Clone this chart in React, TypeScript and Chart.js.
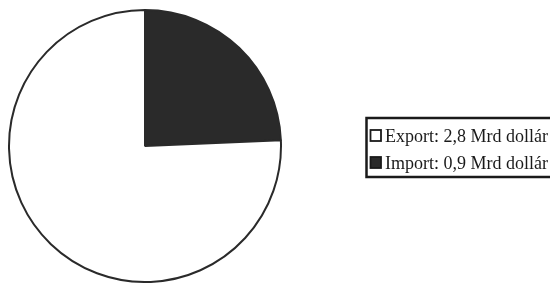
import React, { useEffect, useRef } from "react";
import { Chart, registerables } from "chart.js";

Chart.register(...registerables);

const categories = ["Import: 0,9 Mrd dollár", "Export: 2,8 Mrd dollár"];
const values = [0.9, 2.8];
const colors = ["#2a2a2a", "#ffffff"];
const legendOrder = [1, 0];

const boxLegend = {
  id: "boxLegend",
  afterDraw(chart: any) {
    const ctx = chart.ctx;
    const labels = chart.data.labels as string[];
    const bg = chart.data.datasets[0].backgroundColor as string[];
    ctx.save();
    ctx.strokeStyle = "#1a1a1a";
    ctx.lineWidth = 2.5;
    ctx.strokeRect(366.5, 118, 190, 59);
    ctx.font = '18px "Liberation Serif", "Times New Roman", serif';
    ctx.textBaseline = "alphabetic";
    legendOrder.forEach((idx, i) => {
      const y = 130 + i * 27;
      ctx.fillStyle = bg[idx];
      ctx.fillRect(370.5, y, 10.5, 11);
      ctx.strokeStyle = "#1a1a1a";
      ctx.lineWidth = 1.8;
      ctx.strokeRect(370.5, y, 10.5, 11);
      ctx.fillStyle = "#1a1a1a";
      ctx.fillText(labels[idx], 385, y + 12);
    });
    ctx.restore();
  },
};

export default function App() {
  const ref = useRef<HTMLCanvasElement>(null);
  useEffect(() => {
    if (!ref.current) return;
    const chart = new Chart(ref.current, {
      type: "pie",
      data: {
        labels: categories,
        datasets: [
          {
            data: values,
            backgroundColor: colors,
            borderColor: "#2a2a2a",
            borderWidth: 2,
          },
        ],
      },
      options: {
        animation: false,
        responsive: true,
        maintainAspectRatio: false,
        layout: { padding: { left: 7, top: 9, right: 267, bottom: 0 } },
        plugins: {
          legend: { display: false },
          tooltip: { enabled: false },
        },
      },
      plugins: [boxLegend],
    });
    return () => chart.destroy();
  }, []);
  return (
    <div style={{ position: "absolute", left: 0, top: 0, width: 550, height: 283, background: "#fff" }}>
      <canvas ref={ref} />
    </div>
  );
}
